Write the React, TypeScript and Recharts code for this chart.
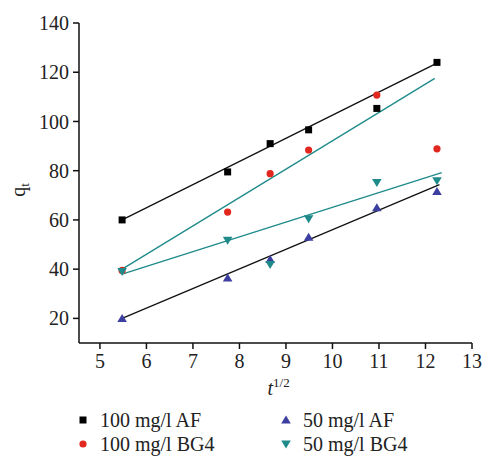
import { Scatter, ScatterChart, XAxis, YAxis } from 'recharts'

// sqrt(t) sample points
const tHalf = [5.477, 7.746, 8.66, 9.487, 10.954, 12.247]

const af100 = [60, 79.5, 91, 96.6, 105.3, 124]
const bg100 = [39.5, 63.2, 78.8, 88.4, 110.7, 88.9]
const af50 = [20, 36.4, 43.9, 53, 64.9, 71.5]
const bg50 = [39, 51.7, 41.9, 60.5, 75.2, 75.9]

// fitted line ends [start, end]
const fitX = {
  af100: [5.477, 12.247],
  bg100: [5.477, 12.2],
  af50: [5.477, 12.3],
  bg50: [5.477, 12.35],
}
const fitY = {
  af100: [60, 123.7],
  bg100: [40, 117.5],
  af50: [20, 74.3],
  bg50: [38, 79.2],
}

const xTicks = [5, 6, 7, 8, 9, 10, 11, 12, 13]
const yTicks = [20, 40, 60, 80, 100, 120, 140]

const FONT = '"Liberation Serif", "DejaVu Serif", serif'
const BLACK = '#000000'
const RED = '#e2271f'
const BLUE = '#3c3f9f'
const TEAL = '#1f8a8a'

type Kind = 'square' | 'circle' | 'up' | 'down'

const series: { key: keyof typeof fitY; name: string; values: number[]; color: string; kind: Kind; lineColor: string }[] = [
  { key: 'af100', name: '100 mg/l AF', values: af100, color: BLACK, kind: 'square', lineColor: '#111' },
  { key: 'bg100', name: '100 mg/l BG4', values: bg100, color: RED, kind: 'circle', lineColor: TEAL },
  { key: 'af50', name: '50 mg/l AF', values: af50, color: BLUE, kind: 'up', lineColor: '#111' },
  { key: 'bg50', name: '50 mg/l BG4', values: bg50, color: TEAL, kind: 'down', lineColor: TEAL },
]

function Marker({ cx, cy, kind, color }: { cx: number; cy: number; kind: Kind; color: string }) {
  if (kind === 'square') return <rect x={cx - 3.5} y={cy - 3.5} width={7} height={7} fill={color} />
  if (kind === 'circle') return <circle cx={cx} cy={cy} r={3.6} fill={color} />
  if (kind === 'up')
    return <polygon points={`${cx},${cy - 4.5} ${cx + 4.8},${cy + 3.5} ${cx - 4.8},${cy + 3.5}`} fill={color} />
  return <polygon points={`${cx},${cy + 4.5} ${cx + 4.8},${cy - 3.5} ${cx - 4.8},${cy - 3.5}`} fill={color} />
}

const toPoints = (xs: number[], ys: number[]) => xs.map((x, i) => ({ x, y: ys[i] }))

export default function App() {
  return (
    <div
      style={{
        position: 'absolute',
        left: 0,
        top: 0,
        width: 485,
        height: 457,
        background: '#fff',
        fontFamily: FONT,
      }}
    >
      <ScatterChart width={485} height={457} margin={{ top: 23, right: 13, bottom: 74, left: 0 }}>
        <XAxis
          type="number"
          dataKey="x"
          domain={[4.55, 13]}
          ticks={xTicks}
          allowDataOverflow
          height={40}
          tickSize={6}
          tickMargin={5}
          stroke="#111"
          strokeWidth={1.5}
          tick={{ fill: '#222', fontSize: 20, fontFamily: FONT }}
          label={({ viewBox }: any) => (
            <text x={viewBox.x + viewBox.width / 2 - 8} y={395} fontFamily={FONT} fontSize={20} fill="#222">
              <tspan fontStyle="italic">t</tspan>
              <tspan dy={-8} fontSize={13}>1/2</tspan>
            </text>
          )}
        />
        <YAxis
          type="number"
          dataKey="y"
          domain={[10, 140]}
          ticks={yTicks}
          allowDataOverflow
          width={79}
          tickSize={6}
          tickMargin={4}
          stroke="#111"
          strokeWidth={1.5}
          tick={{ fill: '#222', fontSize: 20, fontFamily: FONT }}
          label={() => (
            <text transform="rotate(-90, 25, 190)" x={25} y={190} textAnchor="middle" fontFamily={FONT} fontSize={20} fill="#222">
              q<tspan dy={4} fontSize={13}>t</tspan>
            </text>
          )}
        />
        {series.map((s) => (
          <Scatter
            key={s.key + '-fit'}
            data={toPoints(fitX[s.key], fitY[s.key])}
            line={{ stroke: s.lineColor, strokeWidth: 1.3 }}
            shape={() => <g />}
            legendType="none"
            isAnimationActive={false}
          />
        ))}
        {series.map((s) => (
          <Scatter
            key={s.key}
            name={s.name}
            data={toPoints(tHalf, s.values)}
            shape={(p: any) => <Marker cx={p.cx} cy={p.cy} kind={s.kind} color={s.color} />}
            isAnimationActive={false}
          />
        ))}
      </ScatterChart>
      {series.map((s, i) => (
        <div
          key={s.key + '-legend'}
          style={{
            position: 'absolute',
            left: i < 2 ? 76 : 279,
            top: i % 2 === 0 ? 408 : 432,
            display: 'flex',
            alignItems: 'center',
            fontSize: 20,
            color: '#222',
            whiteSpace: 'nowrap',
            lineHeight: '24px',
          }}
        >
          <svg width={24} height={24}>
            <Marker cx={7} cy={12} kind={s.kind} color={s.color} />
          </svg>
          {s.name}
        </div>
      ))}
    </div>
  )
}
